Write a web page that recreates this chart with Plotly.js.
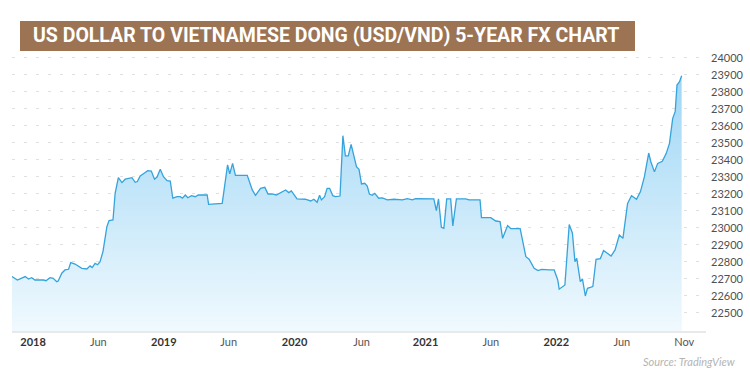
<!DOCTYPE html>
<html>
<head>
<meta charset="utf-8">
<script src="https://cdn.plot.ly/plotly-3.0.1.min.js"></script>
<style>
  html, body { margin: 0; padding: 0; background: #ffffff; }
  #chart { width: 750px; height: 387px; }
</style>
</head>
<body>
<div id="chart"></div>
<script>
// ---- data ----
const dates = [
'2017-11-03','2017-11-18','2017-12-10','2017-12-19','2017-12-28',
'2018-01-06','2018-01-30','2018-02-06','2018-02-17','2018-02-26',
'2018-03-08','2018-03-12','2018-03-22','2018-03-31','2018-04-10',
'2018-04-16','2018-04-28','2018-05-17','2018-05-31','2018-06-09',
'2018-06-15','2018-06-23','2018-06-30','2018-07-07','2018-07-15',
'2018-07-26','2018-08-01','2018-08-12','2018-08-18','2018-08-27',
'2018-09-06','2018-09-15','2018-10-04','2018-10-13','2018-10-19',
'2018-10-27','2018-11-07','2018-11-17','2018-11-27','2018-12-06',
'2018-12-13','2018-12-22','2018-12-31','2019-01-10','2019-01-19',
'2019-01-26','2019-02-07','2019-02-16','2019-02-22','2019-03-02',
'2019-03-09','2019-03-19','2019-03-30','2019-04-07','2019-05-02',
'2019-05-06','2019-06-13','2019-06-28','2019-07-04','2019-07-12',
'2019-07-20','2019-08-22','2019-09-05','2019-09-14','2019-09-28',
'2019-10-10','2019-10-19','2019-10-30','2019-11-11','2019-11-22',
'2019-12-07','2019-12-16','2019-12-23','2020-01-08','2020-01-22',
'2020-01-31','2020-02-15','2020-02-24','2020-03-04','2020-03-11',
'2020-03-16','2020-03-25','2020-04-01','2020-04-08','2020-04-17',
'2020-04-24','2020-05-07','2020-05-15','2020-05-22','2020-05-30',
'2020-06-07','2020-06-15','2020-06-22','2020-06-29','2020-07-06',
'2020-07-15','2020-07-22','2020-07-28','2020-08-05','2020-08-12',
'2020-08-23','2020-09-02','2020-09-16','2020-10-05','2020-10-18',
'2020-10-28','2020-11-11','2020-11-25','2020-12-04','2021-01-01',
'2021-01-24','2021-01-31','2021-02-06','2021-02-14','2021-02-21',
'2021-03-01','2021-03-12','2021-03-18','2021-03-28','2021-04-23',
'2021-05-02','2021-06-02','2021-06-06','2021-07-02','2021-07-16',
'2021-07-28','2021-08-04','2021-08-18','2021-08-27','2021-09-22',
'2021-10-08','2021-10-17','2021-10-31','2021-11-11','2021-11-21',
'2021-12-12','2021-12-26','2022-01-05','2022-01-09','2022-01-25',
'2022-02-06','2022-02-15','2022-02-22','2022-02-27','2022-03-09',
'2022-03-15','2022-03-23','2022-03-29','2022-04-13','2022-04-22',
'2022-05-04','2022-05-13','2022-05-24','2022-06-03','2022-06-14',
'2022-06-26','2022-07-06','2022-07-19','2022-07-30','2022-08-13',
'2022-08-24','2022-09-04','2022-09-16','2022-09-22','2022-10-02',
'2022-10-11','2022-10-24','2022-11-04','2022-11-13','2022-11-22',
'2022-11-29','2022-12-04','2022-12-11','2022-12-17'
];
const usdVnd = [
22714,22694,22714,22700,22708,
22694,22694,22690,22708,22704,
22684,22688,22734,22753,22757,
22796,22788,22763,22759,22777,
22767,22792,22784,22802,22861,
23008,23043,23047,23204,23296,
23267,23287,23296,23269,23273,
23306,23322,23337,23335,23287,
23300,23345,23302,23278,23276,
23175,23184,23184,23175,23194,
23178,23190,23184,23194,23194,
23139,23145,23371,23318,23380,
23310,23310,23224,23192,23233,
23239,23200,23200,23194,23208,
23224,23208,23218,23171,23171,
23169,23159,23169,23151,23192,
23165,23184,23233,23233,23190,
23184,23188,23543,23424,23424,
23492,23424,23361,23345,23259,
23263,23247,23200,23192,23204,
23175,23177,23165,23169,23169,
23165,23173,23165,23173,23173,
23171,23102,23171,23004,22998,
23171,23171,23012,23171,23171,
23165,23165,23061,23061,23041,
23037,22939,23014,22996,22996,
22831,22816,22763,22749,22757,
22753,22753,22694,22640,22665,
23020,22969,22802,22822,22684,
22700,22600,22645,22655,22816,
22820,22867,22851,22835,22871,
22959,22939,23145,23190,23169,
23214,23302,23441,23390,23330,
23380,23392,23439,23498,23645,
23684,23841,23861,23895
];
const xTickDates = ['2018-01-01','2018-07-02','2019-01-01','2019-07-01','2020-01-01','2020-07-06','2021-01-01','2021-07-02','2022-01-01','2022-07-03','2022-12-24'];
const xTickLabels = ['2018','Jun','2019','Jun','2020','Jun','2021','Jun','2022','Jun','Nov'];
const yTicks = [22500,22600,22700,22800,22900,23000,23100,23200,23300,23400,23500,23600,23700,23800,23900,24000];
const titleText = 'US DOLLAR TO VIETNAMESE DONG (USD/VND) 5-YEAR FX CHART';
const sourceText = 'Source: TradingView';

// ---- chart ----
const xTickText = xTickLabels.map(t => /^\d{4}$/.test(t)
  ? '<b>' + t + '</b>'
  : '<span style="color:#555">' + t + '</span>');

const trace = {
  type: 'scatter',
  mode: 'lines',
  x: dates,
  y: usdVnd,
  line: { color: '#35a3dc', width: 1.3 },
  fill: 'tozeroy',
  fillgradient: {
    type: 'vertical',
    start: 22394,
    stop: 23900,
    colorscale: [[0, 'rgb(240,249,254)'], [1, 'rgb(158,214,245)']]
  },
  hoverinfo: 'skip'
};

const layout = {
  width: 750,
  height: 387,
  margin: { l: 12, r: 44, t: 50, b: 56 },
  paper_bgcolor: '#ffffff',
  plot_bgcolor: '#ffffff',
  showlegend: false,
  font: { family: 'Lato, Roboto, sans-serif', size: 11, color: '#444' },
  xaxis: {
    type: 'date',
    range: ['2017-11-03', '2023-02-23'],
    tickmode: 'array',
    tickvals: xTickDates,
    ticktext: xTickText,
    showgrid: false,
    zeroline: false,
    showline: true,
    linecolor: '#e9e9e9',
    linewidth: 2,
    ticks: '',
    tickfont: { family: 'Lato, Roboto, sans-serif', size: 11, color: '#333' },
    fixedrange: true
  },
  yaxis: {
    side: 'right',
    range: [22394, 24047],
    tickmode: 'array',
    tickvals: yTicks,
    ticktext: yTicks.map(String),
    showgrid: true,
    gridcolor: '#e0e0e0',
    griddash: '3px,9px',
    gridwidth: 1,
    zeroline: false,
    showline: false,
    ticks: '',
    ticklabelstandoff: 4,
    tickfont: { family: 'Lato, Roboto, sans-serif', size: 11, color: '#505050' },
    fixedrange: true
  },
  shapes: [{
    type: 'rect',
    xref: 'paper', yref: 'paper',
    x0: (20 - 12) / 694, x1: (635 - 12) / 694,
    y0: (331 - 51) / 281, y1: (331 - 21) / 281,
    fillcolor: '#9c7454',
    line: { width: 0 },
    layer: 'above'
  }],
  annotations: [{
    xref: 'paper', yref: 'paper',
    x: (326 - 12) / 694, y: (331 - 36) / 281,
    xanchor: 'center', yanchor: 'middle',
    text: '<b>' + titleText + '</b>',
    showarrow: false,
    font: { family: 'Roboto, sans-serif', size: 19.5, color: '#ffffff' }
  }, {
    xref: 'paper', yref: 'paper',
    x: (738 - 12) / 694, y: (331 - 361) / 281,
    xanchor: 'right', yanchor: 'middle',
    text: '<i>' + sourceText + '</i>',
    showarrow: false,
    font: { family: 'Lato, Roboto, sans-serif', size: 11, color: '#b4b4b4' }
  }]
};

Plotly.newPlot('chart', [trace], layout, { staticPlot: true, displayModeBar: false });
</script>
</body>
</html>
